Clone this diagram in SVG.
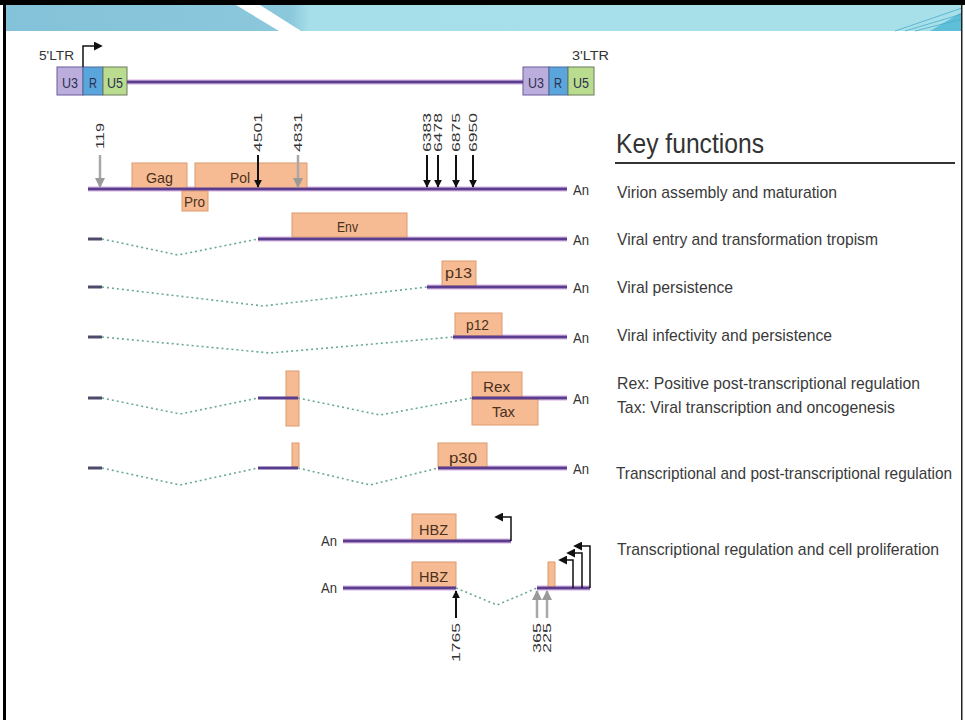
<svg xmlns="http://www.w3.org/2000/svg" width="965" height="720" viewBox="0 0 965 720">
  <defs>
    <linearGradient id="band" x1="0" y1="0" x2="1" y2="0">
      <stop offset="0" stop-color="#84c2d9"/>
      <stop offset="0.3" stop-color="#8bc8dc"/>
      <stop offset="0.32" stop-color="#a6dfe9"/>
      <stop offset="1" stop-color="#a8e0ea"/>
    </linearGradient>
    <marker id="headK" viewBox="0 0 10 10" refX="9" refY="5" markerWidth="4" markerHeight="4" orient="auto">
      <path d="M0,0 L10,5 L0,10 z" fill="#111"/>
    </marker>
    <marker id="headG" viewBox="0 0 10 10" refX="9" refY="5" markerWidth="4" markerHeight="4" orient="auto">
      <path d="M0,0 L10,5 L0,10 z" fill="#9a9a9a"/>
    </marker>
    <marker id="tipK" viewBox="0 0 10 10" refX="8" refY="5" markerWidth="6" markerHeight="6" orient="auto">
      <path d="M0,0 L10,5 L0,10 z" fill="#111"/>
    </marker>
  </defs>
  <style>
    .lbl { font-family: "Liberation Sans", Arial, sans-serif; fill: #333; }
    .fn { font-family: "Liberation Sans", Arial, sans-serif; font-size: 17px; fill: #3a3a3a; }
    .box { fill: #f6bb92; stroke: #dc9a6c; stroke-width: 1; }
    .bt { font-family: "Liberation Sans", Arial, sans-serif; font-size: 15px; fill: #4a3020; }
    .lt { font-family: "Liberation Sans", Arial, sans-serif; font-size: 15px; fill: #2e2e50; }
    .num { font-family: "Liberation Sans", Arial, sans-serif; font-size: 11px; fill: #333; }
    .an { font-family: "Liberation Sans", Arial, sans-serif; font-size: 15px; fill: #333; }
    .halo { stroke: #ecd6f2; stroke-width: 6; fill: none; }
    .rna { stroke: #5a3d8e; stroke-width: 3; fill: none; }
    .dot { stroke: #6aa898; stroke-width: 1.6; stroke-dasharray: 2 3; fill: none; }
    .stub { stroke: #4d4a6a; stroke-width: 3; }
    .arK { stroke: #111; stroke-width: 2; marker-end: url(#headK); }
    .arG { stroke: #a8a8a8; stroke-width: 2.5; marker-end: url(#headG); }
    .tss { stroke: #111; stroke-width: 1.5; fill: none; marker-end: url(#tipK); }
  </style>

  <!-- slide frame and header band -->
  <rect x="0" y="0" width="965" height="720" fill="#ffffff"/>
  <rect x="0" y="0" width="965" height="5" fill="#000"/>
  <rect x="3" y="5" width="959" height="26" fill="url(#band)"/>
  <polygon points="236,5 260,5 301,31 279,31" fill="#ffffff"/>
  <polygon points="930,31 962,12 962,31" fill="#5fbfd8"/>
  <path d="M895,31 L962,8 M905,31 L962,14 M915,31 L962,19" stroke="#4aaccc" stroke-width="0.8" fill="none"/>
  <rect x="3" y="5" width="3" height="715" fill="#000"/>
  <rect x="961" y="5" width="1.5" height="715" fill="#222"/>

  <!-- soft glow under the RNA strands -->
  <g id="glow">
    <line class="halo" x1="127" y1="82" x2="523" y2="82"/>
    <line class="halo" x1="88" y1="189" x2="567" y2="189"/>
    <line class="halo" x1="258" y1="239" x2="567" y2="239"/>
    <line class="halo" x1="427" y1="287" x2="567" y2="287"/>
    <line class="halo" x1="453" y1="337" x2="567" y2="337"/>
    <line class="halo" x1="472" y1="398" x2="567" y2="398"/>
    <line class="halo" x1="438" y1="468" x2="567" y2="468"/>
    <line class="halo" x1="343" y1="541" x2="511" y2="541"/>
    <line class="halo" x1="343" y1="588" x2="456" y2="588"/>
    <line class="halo" x1="537" y1="588" x2="590" y2="588"/>
  </g>

  <!-- LTRs -->
  <g id="ltr5">
    <text class="lbl" x="39" y="60" font-size="12" textLength="35" lengthAdjust="spacingAndGlyphs">5'LTR</text>
    <rect x="57" y="67" width="26" height="28" fill="#bcaedc" stroke="#6b5a9c"/>
    <rect x="83" y="67" width="20" height="28" fill="#5aa6dc" stroke="#4a6a9c"/>
    <rect x="103" y="67" width="24" height="28" fill="#b9dc8e" stroke="#6b7a5c"/>
    <text class="lt" x="62" y="88" textLength="16" lengthAdjust="spacingAndGlyphs">U3</text>
    <text class="lt" x="89" y="88" textLength="8" lengthAdjust="spacingAndGlyphs">R</text>
    <text class="lt" x="107" y="88" textLength="16" lengthAdjust="spacingAndGlyphs">U5</text>
  </g>
  <g id="ltr3">
    <text class="lbl" x="572" y="60" font-size="12" textLength="37" lengthAdjust="spacingAndGlyphs">3'LTR</text>
    <rect x="523" y="67" width="26" height="28" fill="#bcaedc" stroke="#6b5a9c"/>
    <rect x="549" y="67" width="19" height="28" fill="#5aa6dc" stroke="#4a6a9c"/>
    <rect x="568" y="67" width="26" height="28" fill="#b9dc8e" stroke="#6b7a5c"/>
    <text class="lt" x="528" y="88" textLength="16" lengthAdjust="spacingAndGlyphs">U3</text>
    <text class="lt" x="554" y="88" textLength="8" lengthAdjust="spacingAndGlyphs">R</text>
    <text class="lt" x="573" y="88" textLength="16" lengthAdjust="spacingAndGlyphs">U5</text>
  </g>

  <!-- transcripts and coding regions -->
  <g id="gagpol">
    <rect class="box" x="132" y="163" width="55" height="26"/>
    <text class="bt" x="146" y="183" textLength="27" lengthAdjust="spacingAndGlyphs">Gag</text>
    <rect class="box" x="195" y="163" width="112" height="26"/>
    <text class="bt" x="230" y="183" textLength="20" lengthAdjust="spacingAndGlyphs">Pol</text>
    <rect class="box" x="182" y="191" width="26" height="20"/>
    <text class="bt" x="184" y="207" textLength="21" lengthAdjust="spacingAndGlyphs">Pro</text>
    <text class="an" x="573" y="195" textLength="16" lengthAdjust="spacingAndGlyphs">An</text>
  </g>
  <g id="env">
    <rect class="box" x="292" y="213" width="115" height="24"/>
    <text class="bt" x="337" y="232" textLength="21" lengthAdjust="spacingAndGlyphs">Env</text>
    <text class="an" x="573" y="245" textLength="16" lengthAdjust="spacingAndGlyphs">An</text>
  </g>
  <g id="p13">
    <rect class="box" x="442" y="261" width="34" height="25"/>
    <text class="bt" x="445" y="278" textLength="27" lengthAdjust="spacingAndGlyphs">p13</text>
    <text class="an" x="573" y="293" textLength="16" lengthAdjust="spacingAndGlyphs">An</text>
  </g>
  <g id="p12">
    <rect class="box" x="455" y="313" width="47" height="23"/>
    <text class="bt" x="466" y="330" textLength="23" lengthAdjust="spacingAndGlyphs">p12</text>
    <text class="an" x="573" y="343" textLength="16" lengthAdjust="spacingAndGlyphs">An</text>
  </g>
  <g id="rextax">
    <rect class="box" x="286" y="371" width="13" height="55"/>
    <rect class="box" x="472" y="372" width="50" height="25"/>
    <text class="bt" x="483" y="392" textLength="27" lengthAdjust="spacingAndGlyphs">Rex</text>
    <rect class="box" x="472" y="399" width="66" height="26"/>
    <text class="bt" x="492" y="417" textLength="23" lengthAdjust="spacingAndGlyphs">Tax</text>
    <text class="an" x="573" y="404" textLength="16" lengthAdjust="spacingAndGlyphs">An</text>
  </g>
  <g id="p30">
    <rect class="box" x="292" y="443" width="7" height="24"/>
    <rect class="box" x="438" y="443" width="49" height="24"/>
    <text class="bt" x="449" y="463" textLength="28" lengthAdjust="spacingAndGlyphs">p30</text>
    <text class="an" x="573" y="474" textLength="16" lengthAdjust="spacingAndGlyphs">An</text>
  </g>
  <g id="hbz-us">
    <text class="an" x="321" y="546" textLength="16" lengthAdjust="spacingAndGlyphs">An</text>
    <rect class="box" x="412" y="514" width="44" height="26"/>
    <text class="bt" x="419" y="535" textLength="29" lengthAdjust="spacingAndGlyphs">HBZ</text>
  </g>
  <g id="hbz-s">
    <text class="an" x="321" y="593" textLength="16" lengthAdjust="spacingAndGlyphs">An</text>
    <rect class="box" x="412" y="562" width="44" height="25"/>
    <text class="bt" x="419" y="582" textLength="29" lengthAdjust="spacingAndGlyphs">HBZ</text>
    <rect class="box" x="548" y="562" width="7" height="25"/>
  </g>

  <!-- connectors: RNA lines, splice junctions, position arrows -->
  <g id="connectors">
    <!-- proviral genome -->
    <line class="rna" x1="127" y1="82" x2="523" y2="82"/>
    <path class="tss" d="M83,67 V46 H101"/>

    <!-- unspliced gag/pol -->
    <line class="rna" x1="88" y1="189" x2="567" y2="189"/>

    <!-- env -->
    <line class="stub" x1="88" y1="239" x2="102" y2="239"/>
    <polyline class="dot" points="102,239 178,255 258,239"/>
    <line class="rna" x1="258" y1="239" x2="567" y2="239"/>

    <!-- p13 -->
    <line class="stub" x1="88" y1="287" x2="102" y2="287"/>
    <polyline class="dot" points="102,287 263,306 427,287"/>
    <line class="rna" x1="427" y1="287" x2="567" y2="287"/>

    <!-- p12 -->
    <line class="stub" x1="88" y1="337" x2="102" y2="337"/>
    <polyline class="dot" points="102,337 270,353 453,337"/>
    <line class="rna" x1="453" y1="337" x2="567" y2="337"/>

    <!-- rex/tax -->
    <line class="stub" x1="88" y1="398" x2="102" y2="398"/>
    <polyline class="dot" points="102,398 180,414 258,398"/>
    <line class="rna" x1="258" y1="398" x2="298" y2="398"/>
    <polyline class="dot" points="298,398 380,415 472,398"/>
    <line class="rna" x1="472" y1="398" x2="567" y2="398"/>

    <!-- p30 -->
    <line class="stub" x1="88" y1="468" x2="102" y2="468"/>
    <polyline class="dot" points="102,468 180,485 258,468"/>
    <line class="rna" x1="258" y1="468" x2="298" y2="468"/>
    <polyline class="dot" points="298,468 370,485 438,468"/>
    <line class="rna" x1="438" y1="468" x2="567" y2="468"/>

    <!-- HBZ unspliced -->
    <line class="rna" x1="343" y1="541" x2="511" y2="541"/>
    <path class="tss" d="M511,541 V517 H496"/>

    <!-- HBZ spliced -->
    <line class="rna" x1="343" y1="588" x2="456" y2="588"/>
    <polyline class="dot" points="456,588 497,605 537,588"/>
    <line class="rna" x1="537" y1="588" x2="590" y2="588"/>
    <path class="tss" d="M573,588 V560 H560"/>
    <path class="tss" d="M582,588 V553 H568"/>
    <path class="tss" d="M590,588 V546 H575"/>

    <!-- nucleotide positions -->
    <line class="arG" x1="100" y1="155" x2="100" y2="187"/>
    <line class="arK" x1="258" y1="155" x2="258" y2="187"/>
    <line class="arG" x1="298" y1="155" x2="298" y2="187"/>
    <line class="arK" x1="427" y1="155" x2="427" y2="187"/>
    <line class="arK" x1="438" y1="155" x2="438" y2="187"/>
    <line class="arK" x1="456" y1="155" x2="456" y2="187"/>
    <line class="arK" x1="473" y1="155" x2="473" y2="187"/>
    <line class="arK" x1="456" y1="618" x2="456" y2="591"/>
    <line class="arG" x1="537" y1="618" x2="537" y2="591"/>
    <line class="arG" x1="547" y1="618" x2="547" y2="591"/>
  </g>

  <!-- position labels -->
  <g id="positions">
    <text class="num" transform="translate(104,149) rotate(-90)" textLength="26" lengthAdjust="spacingAndGlyphs">119</text>
    <text class="num" transform="translate(262,152) rotate(-90)" textLength="39" lengthAdjust="spacingAndGlyphs">4501</text>
    <text class="num" transform="translate(302,152) rotate(-90)" textLength="39" lengthAdjust="spacingAndGlyphs">4831</text>
    <text class="num" transform="translate(431,152) rotate(-90)" textLength="39" lengthAdjust="spacingAndGlyphs">6383</text>
    <text class="num" transform="translate(442,152) rotate(-90)" textLength="39" lengthAdjust="spacingAndGlyphs">6478</text>
    <text class="num" transform="translate(460,152) rotate(-90)" textLength="39" lengthAdjust="spacingAndGlyphs">6875</text>
    <text class="num" transform="translate(477,152) rotate(-90)" textLength="39" lengthAdjust="spacingAndGlyphs">6950</text>
    <text class="num" transform="translate(460,662) rotate(-90)" textLength="39" lengthAdjust="spacingAndGlyphs">1765</text>
    <text class="num" transform="translate(541,653) rotate(-90)" textLength="30" lengthAdjust="spacingAndGlyphs">365</text>
    <text class="num" transform="translate(551,653) rotate(-90)" textLength="30" lengthAdjust="spacingAndGlyphs">225</text>
  </g>

  <!-- function legend -->
  <g id="legend">
    <text class="lbl" x="616" y="153" font-size="28" textLength="148" lengthAdjust="spacingAndGlyphs">Key functions</text>
    <line x1="615" y1="163" x2="955" y2="163" stroke="#333" stroke-width="2"/>
    <text class="fn" x="617" y="198" textLength="220" lengthAdjust="spacingAndGlyphs">Virion assembly and maturation</text>
    <text class="fn" x="617" y="245" textLength="261" lengthAdjust="spacingAndGlyphs">Viral entry and transformation tropism</text>
    <text class="fn" x="617" y="293" textLength="116" lengthAdjust="spacingAndGlyphs">Viral persistence</text>
    <text class="fn" x="617" y="341" textLength="215" lengthAdjust="spacingAndGlyphs">Viral infectivity and persistence</text>
    <text class="fn" x="617" y="389" textLength="303" lengthAdjust="spacingAndGlyphs">Rex: Positive post-transcriptional regulation</text>
    <text class="fn" x="617" y="413" textLength="278" lengthAdjust="spacingAndGlyphs">Tax: Viral transcription and oncogenesis</text>
    <text class="fn" x="616" y="479" font-size="14" textLength="336" lengthAdjust="spacingAndGlyphs">Transcriptional and post-transcriptional regulation</text>
    <text class="fn" x="617" y="555" textLength="322" lengthAdjust="spacingAndGlyphs">Transcriptional regulation and cell proliferation</text>
  </g>
</svg>
